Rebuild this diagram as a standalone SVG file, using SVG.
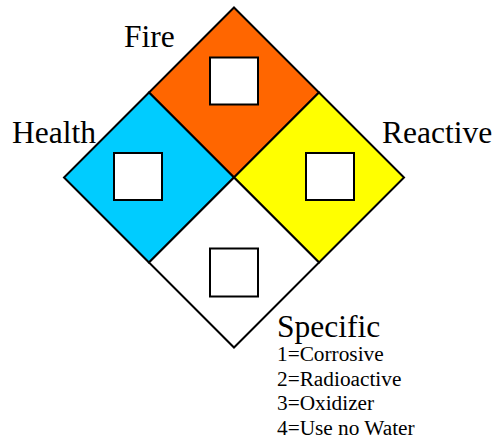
<svg xmlns="http://www.w3.org/2000/svg" width="498" height="438" viewBox="0 0 498 438">
<style>
.q{stroke:#000;stroke-width:2;stroke-linejoin:miter}
.b{fill:#fff;stroke:#000;stroke-width:2}
.t{font-family:"Liberation Serif","Times New Roman",serif;fill:#000}
.L{font-size:31.5px}
.s{font-size:21.3px}
</style>
<rect width="498" height="438" fill="#fff"/>
<g id="fire">
<polygon class="q" fill="#FF6600" points="234,7.5 319,92.5 234,177.5 149,92.5"/>
<rect class="b" x="210" y="57.5" width="48" height="47"/>
<text class="t L" x="124" y="47">Fire</text>
</g>
<g id="health">
<polygon class="q" fill="#00CCFF" points="149,92.5 234,177.5 149,262.5 64,177.5"/>
<rect class="b" x="114" y="153" width="48" height="47"/>
<text class="t L" x="12" y="143">Health</text>
</g>
<g id="reactive">
<polygon class="q" fill="#FFFF00" points="319,92.5 404,177.5 319,262.5 234,177.5"/>
<rect class="b" x="306" y="153" width="48" height="47"/>
<text class="t L" x="382" y="143">Reactive</text>
</g>
<g id="specific">
<polygon class="q" fill="#FFFFFF" points="234,177.5 319,262.5 234,347.5 149,262.5"/>
<rect class="b" x="210" y="248.5" width="48" height="48"/>
<text class="t L" x="277" y="337">Specific</text>
<text class="t s" x="277" y="361">1=Corrosive</text>
<text class="t s" x="277" y="386">2=Radioactive</text>
<text class="t s" x="277" y="410">3=Oxidizer</text>
<text class="t s" x="277" y="434.5">4=Use no Water</text>
</g>
<g id="connectors"></g>
</svg>
